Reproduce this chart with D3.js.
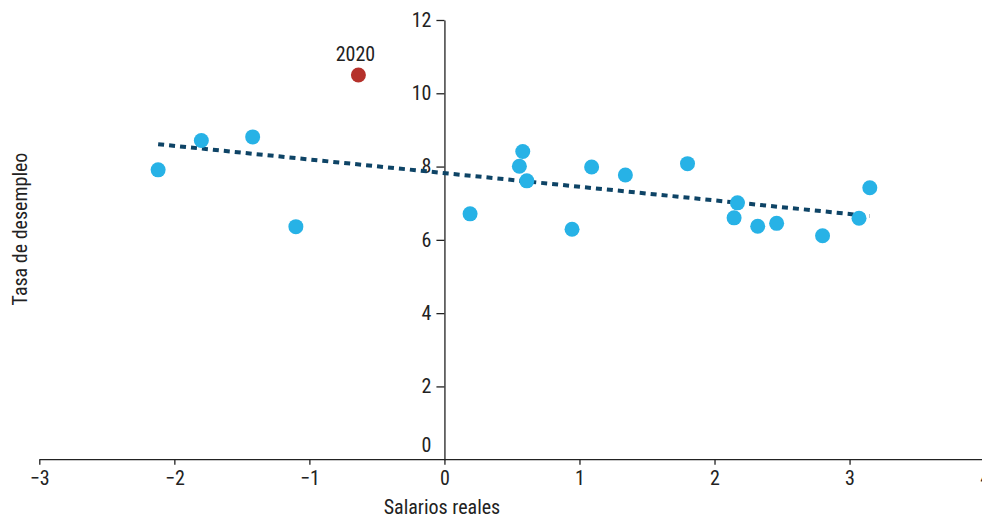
<!DOCTYPE html>
<html>
<head>
<meta charset="utf-8">
<script src="https://cdn.jsdelivr.net/npm/d3@7"></script>
<style>
  html, body { margin: 0; padding: 0; background: #fff; }
  svg { display: block; }
  text { font-family: "Roboto Condensed", "Liberation Sans Narrow", "DejaVu Sans Condensed", Roboto, sans-serif; fill: #222; }
</style>
</head>
<body>
<svg id="chart" width="982" height="517"></svg>
<script>
// Data
const salariosReales = [-2.12, -1.80, -1.42, -1.10, 0.19, 0.58, 0.555, 0.61, 0.945, 1.09, 1.34, 1.80, 2.17, 2.145, 2.32, 2.46, 2.80, 3.07, 3.15];
const tasaDesempleo  = [7.91, 8.71, 8.81, 6.36, 6.71, 8.41, 8.01, 7.61, 6.29, 7.99, 7.77, 8.08, 7.01, 6.60, 6.37, 6.45, 6.11, 6.59, 7.42];
const highlightX = [-0.637];
const highlightY = [10.50];
const highlightLabel = ["2020"];
const trendX = [-2.12, 3.15];
const trendY = [8.61, 6.65];
const xTicks = [-3, -2, -1, 0, 1, 2, 3, 4];
const yTicks = [0, 2, 4, 6, 8, 10, 12];

const FS = 20;
const svg = d3.select("#chart");
const x = d3.scaleLinear().domain([-3, 4]).range([39.3, 984.6]);
const y = d3.scaleLinear().domain([0, 12]).range([459.7, 20]);

// X axis
const xAxis = svg.append("g")
  .attr("transform", `translate(0,${y(0)})`)
  .call(d3.axisBottom(x).tickValues(xTicks).tickFormat(d3.format("d")).tickSize(5).tickSizeOuter(0).tickPadding(6));
xAxis.select(".domain").attr("stroke", "#222").attr("stroke-width", 1.3).attr("d", `M${x(-3)},0H982`);
xAxis.selectAll(".tick line").attr("stroke", "#222").attr("stroke-width", 1.3);
xAxis.selectAll(".tick text").attr("font-size", FS).attr("fill", "#222");

// Y axis
const yAxis = svg.append("g")
  .attr("transform", `translate(${x(0)},0)`)
  .call(d3.axisLeft(y).tickValues(yTicks).tickFormat(d3.format("d")).tickSize(8).tickSizeOuter(0).tickPadding(5));
yAxis.select(".domain").attr("stroke", "#222").attr("stroke-width", 1.3);
yAxis.selectAll(".tick line").attr("stroke", "#222").attr("stroke-width", 1.3);
yAxis.selectAll(".tick text").attr("font-size", FS).attr("fill", "#222");
yAxis.selectAll(".tick").filter(d => d === 0).select("text").attr("dy", "-0.4em");
yAxis.selectAll(".tick").filter(d => d === 0).select("line").remove();

// Trend line
const line = d3.line().x(d => x(d[0])).y(d => y(d[1]));
svg.append("path")
  .datum(d3.zip(trendX, trendY))
  .attr("d", line)
  .attr("fill", "none")
  .attr("stroke", "#0e4466")
  .attr("stroke-width", 4)
  .attr("stroke-dasharray", "6,5");

// Points
svg.append("g").selectAll("circle")
  .data(d3.zip(salariosReales, tasaDesempleo))
  .join("circle")
  .attr("cx", d => x(d[0]))
  .attr("cy", d => y(d[1]))
  .attr("r", 7.5)
  .attr("fill", "#27b2e6");

svg.append("g").selectAll("circle")
  .data(d3.zip(highlightX, highlightY))
  .join("circle")
  .attr("cx", d => x(d[0]))
  .attr("cy", d => y(d[1]))
  .attr("r", 7.5)
  .attr("fill", "#b5312b");

svg.append("g").selectAll("text")
  .data(d3.zip(highlightX, highlightY, highlightLabel))
  .join("text")
  .attr("x", d => x(d[0]) - 3)
  .attr("y", d => y(d[1]) - 14)
  .attr("text-anchor", "middle")
  .attr("font-size", FS)
  .text(d => d[2]);

// Axis titles
svg.append("text")
  .attr("x", 442)
  .attr("y", 514)
  .attr("text-anchor", "middle")
  .attr("font-size", FS)
  .text("Salarios reales");

svg.append("text")
  .attr("transform", "translate(27,229) rotate(-90)")
  .attr("text-anchor", "middle")
  .attr("font-size", FS)
  .text("Tasa de desempleo");
</script>
</body>
</html>
